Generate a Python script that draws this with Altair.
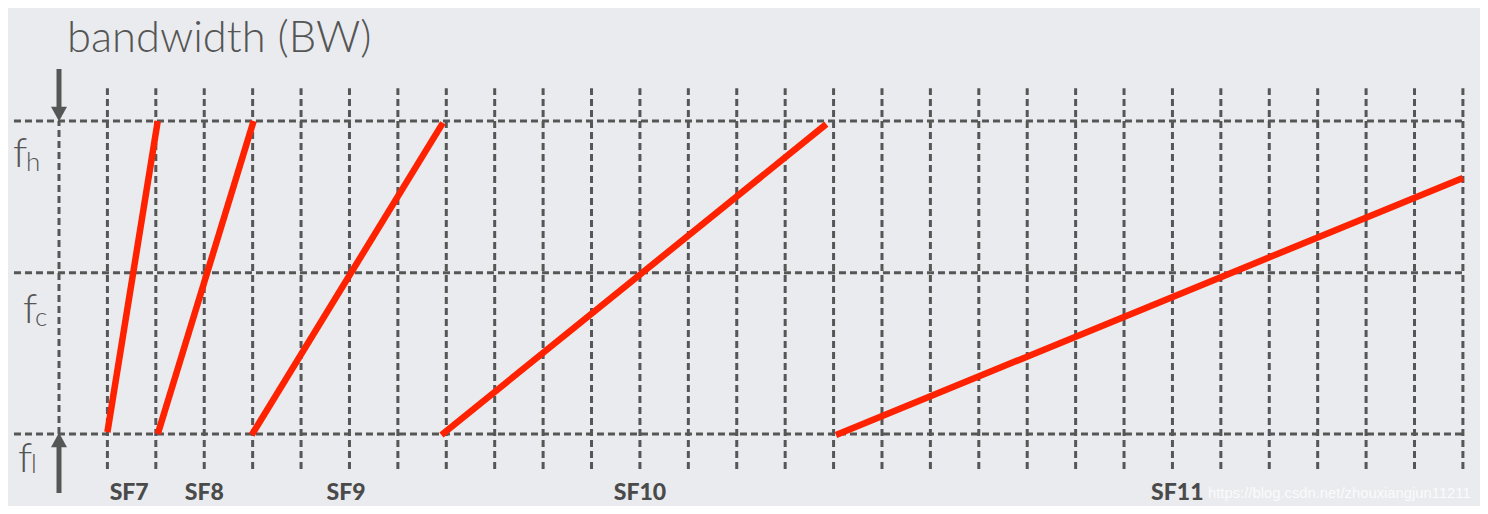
import altair as alt
import pandas as pd

# ---- data (x in grid units, y in band units: f_l=0, f_h=1)
grid_x = list(range(1, 30))          # vertical dashed grid lines
levels = [0.0, 0.515, 1.0]           # f_l, f_c, f_h

sf_names = ["SF7", "SF8", "SF9", "SF10", "SF11"]
chirp_x0 = [1.0, 2.04, 3.98, 7.9, 16.05]
chirp_x1 = [2.04, 4.02, 7.93, 15.85, 29.0]
chirp_y0 = [0.006, 0.0, -0.003, -0.003, -0.003]
chirp_y1 = [1.0, 1.0, 0.994, 0.99, 0.818]
label_x = [1.45, 3.0, 5.93, 12.0, 23.1]

# ---- scales
W, H = 1472, 498
xs = alt.Scale(domain=[-1.0535, 29.353], nice=False, zero=False)
ys = alt.Scale(domain=[-0.2300, 1.3610], nice=False, zero=False)
GRAY = "#565656"


def X(f):
    return alt.X(f, type="quantitative", scale=xs, axis=None)


def Y(f):
    return alt.Y(f, type="quantitative", scale=ys, axis=None)


vdf = pd.DataFrame({"x": grid_x, "y0": -0.112, "y1": 1.105})
vgrid = alt.Chart(vdf).mark_rule(
    color=GRAY, strokeWidth=3, strokeDash=[7, 4]
).encode(x=X("x"), y=Y("y0"), y2="y1")

adf = pd.DataFrame({"x": [0], "y0": [0.0], "y1": [1.0]})
axis_line = alt.Chart(adf).mark_rule(
    color=GRAY, strokeWidth=3, strokeDash=[7, 4]
).encode(x=X("x"), y=Y("y0"), y2="y1")

hdf = pd.DataFrame({"y": levels, "x0": -0.93, "x1": 29.0})
hgrid = alt.Chart(hdf).mark_rule(
    color=GRAY, strokeWidth=3, strokeDash=[7, 4]
).encode(y=Y("y"), x=X("x0"), x2="x1")

cdf = pd.DataFrame({"sf": sf_names, "x0": chirp_x0, "x1": chirp_x1,
                    "y0": chirp_y0, "y1": chirp_y1})
chirps = alt.Chart(cdf).mark_rule(
    color="#ff2200", strokeWidth=6.5, strokeCap="butt"
).encode(x=X("x0"), x2="x1", y=Y("y0"), y2="y1")

# arrows on the frequency axis
arr = pd.DataFrame({"x": [0]})
top_shaft = alt.Chart(arr).mark_rule(color=GRAY, strokeWidth=5).encode(
    x=X("x"), y=alt.value(61), y2=alt.value(102))
top_head = alt.Chart(arr).mark_point(
    shape="M-1,-0.9L1,-0.9L0,0.9Z", filled=True, color=GRAY, size=256, opacity=1
).encode(x=X("x"), y=alt.value(106))
bot_shaft = alt.Chart(arr).mark_rule(color=GRAY, strokeWidth=5).encode(
    x=X("x"), y=alt.value(436), y2=alt.value(485))
bot_head = alt.Chart(arr).mark_point(
    shape="M-1,0.9L1,0.9L0,-0.9Z", filled=True, color=GRAY, size=256, opacity=1
).encode(x=X("x"), y=alt.value(432))

# SF labels
ldf = pd.DataFrame({"sf": sf_names, "x": label_x})
sf_labels = alt.Chart(ldf).mark_text(
    font="Lato", fontWeight=900, fontSize=23, color="#4a4a4a",
    align="center", baseline="alphabetic"
).encode(x=X("x"), y=alt.value(492), text="sf")


def txt(t, x, y, size, weight=300, color="#555555", font="Lato"):
    return alt.Chart(pd.DataFrame({"t": [t]})).mark_text(
        font=font, fontWeight=weight, fontSize=size, color=color,
        align="left", baseline="alphabetic"
    ).encode(text="t", x=alt.value(x), y=alt.value(y))


title = txt("bandwidth (BW)", 59, 44, 43.5)
fh_f = txt("f", 5, 159, 42)
fh_s = txt("h", 18, 163, 26)
fc_f = txt("f", 15, 315, 42)
fc_s = txt("c", 27, 318, 26)
fl_f = txt("f", 10, 464, 42)
fl_s = txt("l", 23, 465, 26)
watermark = txt("https://blog.csdn.net/zhouxiangjun11211", 1200, 490, 14.8,
                weight=400, color="#fafbfc", font="Liberation Sans")

chart = alt.layer(
    vgrid, axis_line, hgrid, chirps,
    top_shaft, top_head, bot_shaft, bot_head,
    sf_labels, watermark, title, fh_f, fh_s, fc_f, fc_s, fl_f, fl_s
).properties(
    width=W, height=H, background="#e9ebee", padding=0, autosize="none"
).configure_view(stroke=None)

chart.save("out.html", embed_options={"renderer": "svg", "actions": False})
